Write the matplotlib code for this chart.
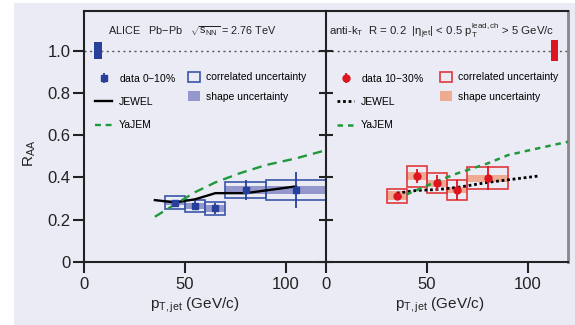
import matplotlib
matplotlib.use('Agg')
import matplotlib.pyplot as plt
from matplotlib.patches import Patch, Rectangle
from matplotlib.lines import Line2D
import numpy as np

# ---------------- data ----------------
# 0-10% centrality (left panel)
pt_010 = np.array([45, 55, 65, 80, 105])
raa_010 = np.array([0.280, 0.265, 0.253, 0.340, 0.340])
stat_010 = np.array([0.012, 0.022, 0.027, 0.048, 0.084])
corr_010 = np.array([0.031, 0.028, 0.032, 0.039, 0.046])
shape_010 = np.array([0.012, 0.013, 0.015, 0.018, 0.020])
lo_010 = np.array([40, 50, 60, 70, 90])
hi_010 = np.array([50, 60, 70, 90, 120])
norm_010 = 0.04

jewel_x_010 = [35, 45, 55, 65, 80, 105]
jewel_y_010 = [0.292, 0.281, 0.296, 0.325, 0.325, 0.357]
yajem_x_010 = [35, 45, 55, 65, 77, 90, 105, 120]
yajem_y_010 = [0.213, 0.272, 0.330, 0.376, 0.419, 0.458, 0.490, 0.529]

# 10-30% centrality (right panel)
pt_1030 = np.array([35, 45, 55, 65, 80])
raa_1030 = np.array([0.313, 0.406, 0.372, 0.340, 0.395])
stat_1030 = np.array([0.008, 0.032, 0.038, 0.046, 0.057])
corr_1030 = np.array([0.034, 0.050, 0.048, 0.046, 0.052])
shape_1030 = np.array([0.020, 0.017, 0.016, 0.016, 0.018])
lo_1030 = np.array([30, 40, 50, 60, 70])
hi_1030 = np.array([40, 50, 60, 70, 90])
norm_1030 = 0.05

jewel_x_1030 = [35, 45, 55, 65, 80, 105]
jewel_y_1030 = [0.325, 0.338, 0.342, 0.352, 0.376, 0.406]
yajem_x_1030 = [35, 45, 55, 65, 80, 90, 100, 120]
yajem_y_1030 = [0.300, 0.340, 0.382, 0.419, 0.466, 0.505, 0.527, 0.569]

xticks = [0, 50, 100]
yticks = [0, 0.2, 0.4, 0.6, 0.8, 1.0]
ytick_labels = ['0', '0.2', '0.4', '0.6', '0.8', '1.0']

# ---------------- style ----------------
plt.rcParams['font.family'] = ['Liberation Sans', 'DejaVu Sans']
plt.rcParams['mathtext.fontset'] = 'custom'
plt.rcParams['mathtext.rm'] = 'Liberation Sans'
plt.rcParams['mathtext.it'] = 'Liberation Sans:italic'
plt.rcParams['mathtext.sf'] = 'Liberation Sans'
SMALL = ['Liberation Sans', 'DejaVu Sans']
FS = 7.5

BG = '#ebebf6'
BLUE = '#27409a'
BLUE_EDGE = '#3a55a8'
LAV = '#9497cc'
RED = '#dd1520'
RED_EDGE = '#e03a3a'
SALMON = '#efaa92'
GREEN = '#1f9a3a'
INK = '#222222'

W, H = 575, 325
fig = plt.figure(figsize=(W / 100, H / 100), dpi=100, facecolor='white')
fig.patches.append(Rectangle((14 / W, 0), 1, 322 / H, transform=fig.transFigure,
                             facecolor=BG, edgecolor='none', zorder=-10))

x0 = 84.3
pw = 242
ybot = 261.7
ph = 251
ax1 = fig.add_axes([x0 / W, (H - ybot) / H, pw / W, ph / H])
ax2 = fig.add_axes([(x0 + pw) / W, (H - ybot) / H, pw / W, ph / H])

for ax in (ax1, ax2):
    ax.set_facecolor(BG)
    ax.set_xlim(0, 120)
    ax.set_ylim(0, 1.19)
    ax.set_xticks(xticks)
    ax.set_yticks(yticks)
    ax.tick_params(axis='x', direction='out', length=8, width=1.5, labelsize=12, pad=3,
                   colors=INK)
    for s in ('left', 'bottom', 'top'):
        ax.spines[s].set_linewidth(1.5)
        ax.spines[s].set_color(INK)
    ax.axhline(1.0, color='#555555', ls=(0, (1.5, 2.5)), lw=1.0, zorder=1)
    ax.set_xlabel(r'$\mathregular{p_{T,jet}}$ (GeV/c)', fontsize=11, color=INK)

ax1.set_yticklabels(ytick_labels)
ax1.tick_params(axis='y', direction='out', length=8, width=1.5, labelsize=12, pad=2,
                colors=INK)
ax1.spines['right'].set_visible(False)
ax1.set_ylabel(r'$\mathregular{R_{AA}}$', fontsize=11, color=INK)
ax1.yaxis.set_label_coords(-0.19, 0.43)
ax1.xaxis.set_label_coords(0.455, -0.135)

ax2.tick_params(axis='y', direction='inout', length=10, width=1.5, labelleft=False,
                colors=INK)
ax2.spines['right'].set_color('#888888')
ax2.spines['right'].set_linewidth(2.0)
ax2.xaxis.set_label_coords(0.468, -0.135)

# ---------------- left panel ----------------
ax1.bar(lo_010, 2 * shape_010, width=hi_010 - lo_010, bottom=raa_010 - shape_010,
        align='edge', color=LAV, edgecolor='none', zorder=2)
ax1.bar(lo_010, 2 * corr_010, width=hi_010 - lo_010, bottom=raa_010 - corr_010,
        align='edge', fill=False, edgecolor=BLUE_EDGE, lw=1.2, zorder=3)
ax1.plot(jewel_x_010, jewel_y_010, color='black', lw=1.7, zorder=4)
ax1.plot(yajem_x_010, yajem_y_010, color=GREEN, lw=1.7, ls=(0, (4.0, 2.6)), zorder=4)
eb1 = ax1.errorbar(pt_010, raa_010, yerr=stat_010, fmt='s', color=BLUE, ms=4.5,
                   elinewidth=1.3, capsize=0, zorder=5)
ax1.bar(6.7, 2 * norm_010, width=3.8, bottom=1 - norm_010, color=BLUE, zorder=3)

ax1.text(0.098, 0.918, r'ALICE   Pb$-$Pb   $\mathregular{\sqrt{s_{NN}}}$ = 2.76 TeV',
         transform=ax1.transAxes, fontsize=7.8, family=SMALL, va='center', ha='left',
         color=INK)

h_jew1 = Line2D([], [], color='black', lw=1.7)
h_yaj1 = Line2D([], [], color=GREEN, lw=1.7, ls=(0, (2.5, 2.0)))
leg_kw = dict(loc='upper left', frameon=False, borderpad=0, borderaxespad=0,
              prop={'family': SMALL, 'size': FS})
leg1 = ax1.legend([eb1, h_jew1, h_yaj1], ['data 0$-$10%', 'JEWEL', 'YaJEM'],
                  bbox_to_anchor=(0.045, 0.757), handlelength=1.65, handletextpad=0.6,
                  labelspacing=1.28, **leg_kw)
ax1.add_artist(leg1)
h_cor1 = Patch(facecolor='none', edgecolor=BLUE_EDGE, lw=1.2)
h_sha1 = Patch(facecolor=LAV, edgecolor='none')
ax1.legend([h_cor1, h_sha1], ['correlated uncertainty', 'shape uncertainty'],
           bbox_to_anchor=(0.43, 0.757), handlelength=1.15, handleheight=1.15,
           handletextpad=0.55, labelspacing=0.82, **leg_kw)

# ---------------- right panel ----------------
ax2.bar(lo_1030, 2 * shape_1030, width=hi_1030 - lo_1030, bottom=raa_1030 - shape_1030,
        align='edge', color=SALMON, edgecolor='none', zorder=2)
ax2.bar(lo_1030, 2 * corr_1030, width=hi_1030 - lo_1030, bottom=raa_1030 - corr_1030,
        align='edge', fill=False, edgecolor=RED_EDGE, lw=1.2, zorder=3)
ax2.plot(jewel_x_1030, jewel_y_1030, color='black', lw=2.0, ls=(0, (1.0, 1.0)), zorder=4)
ax2.plot(yajem_x_1030, yajem_y_1030, color=GREEN, lw=1.8, ls=(0, (2.2, 2.0)), zorder=4)
eb2 = ax2.errorbar(pt_1030, raa_1030, yerr=stat_1030, fmt='o', color=RED, ms=5,
                   elinewidth=1.3, capsize=0, zorder=5)
ax2.bar(113.1, 2 * norm_1030, width=3.3, bottom=1 - norm_1030, color=RED, zorder=3)

ax2.text(0.012, 0.918,
         r'anti-k$_\mathregular{T}$  R = 0.2  |$\mathregular{\eta_{jet}}$| < 0.5 '
         r'$\mathregular{p_{T}^{lead,ch}}$ > 5 GeV/c',
         transform=ax2.transAxes, fontsize=8.2, family=SMALL, va='center', ha='left',
         color=INK)

h_jew2 = Line2D([], [], color='black', lw=2.0, ls=(0, (1.0, 1.0)))
h_yaj2 = Line2D([], [], color=GREEN, lw=1.8, ls=(0, (2.2, 2.0)))
leg2 = ax2.legend([eb2, h_jew2, h_yaj2], ['data 10$-$30%', 'JEWEL', 'YaJEM'],
                  bbox_to_anchor=(0.045, 0.757), handlelength=1.65, handletextpad=0.6,
                  labelspacing=1.28, **leg_kw)
ax2.add_artist(leg2)
h_cor2 = Patch(facecolor='none', edgecolor=RED_EDGE, lw=1.2)
h_sha2 = Patch(facecolor=SALMON, edgecolor='none')
ax2.legend([h_cor2, h_sha2], ['correlated uncertainty', 'shape uncertainty'],
           bbox_to_anchor=(0.47, 0.757), handlelength=1.15, handleheight=1.15,
           handletextpad=0.55, labelspacing=0.82, **leg_kw)

fig.savefig('out.png', dpi=100, facecolor=fig.get_facecolor())
